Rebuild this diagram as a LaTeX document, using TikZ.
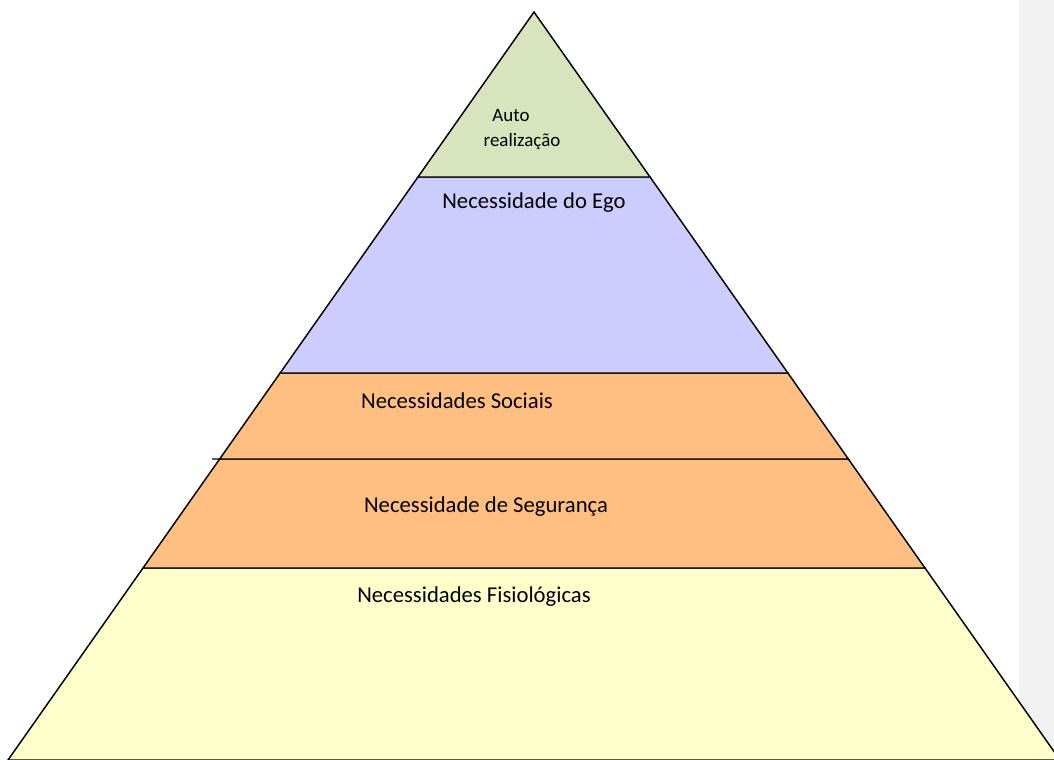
\documentclass[tikz,border=0pt]{standalone}
\usepackage{fontspec}
\setmainfont{Carlito}
\usetikzlibrary{calc}

\definecolor{topgreen}{HTML}{D7E4BD}
\definecolor{egoblue}{HTML}{CCCCFF}
\definecolor{midorange}{HTML}{FFBF80}
\definecolor{baseyellow}{HTML}{FFFFCC}
\definecolor{sidegray}{HTML}{F2F2F2}

\tikzset{
  layer/.style={draw=black,line width=1.1pt,line join=miter},
  caption/.style={inner sep=0pt,font=\fontsize{17}{20}\selectfont},
  smallcaption/.style={inner sep=0pt,font=\fontsize{14.2}{17}\selectfont}
}

\begin{document}
\begin{tikzpicture}[x=0.75pt,y=-0.75pt]

                \useasboundingbox (0,0) rectangle (1054,760);
                \clip (0,0) rectangle (1054,760);
                \fill[sidegray] (1019,0) rectangle (1054,760);

                % corners of the pyramid
                \coordinate (top) at (534,12);
                \coordinate (bl) at (8,760);
                \coordinate (br) at (1060,760);
                \foreach \n/\t in {a/0.2206,b/0.4826,c/0.5976,d/0.7433}{
                    \coordinate (l\n) at ($(top)!\t!(bl)$);
                    \coordinate (r\n) at ($(top)!\t!(br)$);
                }
                \coordinate (stub) at (212,459);

                \path[layer,fill=baseyellow] (ld) -- (rd) -- (br) -- (bl) -- cycle;
                \path[layer,fill=midorange] (lc) -- (rc) -- (rd) -- (ld) -- cycle;
                \path[layer,fill=midorange] (lb) -- (rb) -- (rc) -- (lc) -- cycle;
                \path[layer,fill=egoblue] (la) -- (ra) -- (rb) -- (lb) -- cycle;
                \path[layer,fill=topgreen] (top) -- (ra) -- (la) -- cycle;
                \draw[line width=1.1pt] (stub) -- (lc);

                \node[smallcaption] (auto) at (511,115) {Auto};
                \node[smallcaption] (real) at (522,142) {realização};
                \node[caption] (ego) at (534,203) {Necessidade do Ego};
                \node[caption] (soc) at (457,401) {Necessidades Sociais};
                \node[caption] (seg) at (486,507) {Necessidade de Segurança};
                \node[caption] (fis) at (474,597) {Necessidades Fisiológicas};

            \end{tikzpicture}
\end{document}
